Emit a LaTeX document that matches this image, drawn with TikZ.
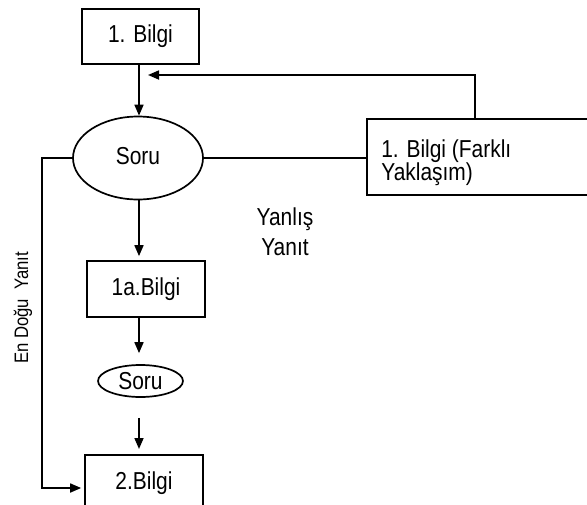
\documentclass[tikz,border=0pt]{standalone}
\usepackage{fontspec}
\setmainfont{Liberation Sans}[FakeStretch=0.855]
\usetikzlibrary{arrows.meta,shapes.geometric}
\begin{document}
\begin{tikzpicture}[x=1pt,y=-1pt,
  line width=1.7pt,
  box/.style={draw, rectangle, inner sep=0pt, font=\fontsize{24.5}{27}\selectfont},
  oval/.style={draw, ellipse, inner sep=0pt, font=\fontsize{24.5}{27}\selectfont},
  arr/.style={-{Triangle[length=11pt,width=9pt]}},
  lbl/.style={font=\fontsize{24.5}{30}\selectfont, align=center, inner sep=0pt}]
\useasboundingbox (0,0) rectangle (587,504);
\begin{scope}
\clip (0,0) rectangle (587,504);
% nodes
\node[box, minimum width=117pt, minimum height=55pt] (b1) at (140.5,36.5) {1. Bilgi};
\node[oval, minimum width=130pt, minimum height=83pt] (s1) at (138,158) {\raisebox{4pt}{Soru}};
\node[box, minimum width=240pt, minimum height=76pt, anchor=north west] (fk) at (366,118) {};
\node[anchor=north west, align=left, inner sep=0pt, font=\fontsize{24.5}{23}\selectfont] (fkt) at (380.5,138.5) {1. Bilgi (Farklı\\Yaklaşım)};
\node[lbl, anchor=north] (yy) at (285,206.5) {Yanlış\\Yanıt};
\node[rotate=90, inner sep=0pt, font=\fontsize{19.5}{21}\selectfont] (edy) at (23,308) {En Doğu\ \ Yanıt};
\node[box, minimum width=118pt, minimum height=56pt] (b1a) at (146,289) {1a.Bilgi};
\node[oval, minimum width=85pt, minimum height=32pt] (s2) at (140.5,381) {\raisebox{-3pt}{Soru}};
\node[box, minimum width=118pt, minimum height=56pt, anchor=north] (b2) at (144,454) {2.Bilgi};
% helper coordinates
\coordinate (cx) at (139,0);
\coordinate (fbx) at (475,75);
\coordinate (fbt) at (148,75);
\coordinate (lx) at (42,488);
% connectors
\draw[arr] (b1.south -| cx) -- (s1.north -| cx);
\draw[arr, shorten >=4pt] (s1.south -| cx) -- (b1a.north -| cx);
\draw[arr, shorten >=11pt] (b1a.south -| cx) -- (s2.north -| cx);
\draw[arr, shorten <=20pt, shorten >=5pt] (s2.south -| cx) -- (b2.north -| cx);
\draw[arr] (fk.north -| fbx) -- (fbx) -- (fbt);
\draw (s1.east) -- (s1.east -| fk.west);
\draw[arr, shorten >=3pt] (s1.west) -- (s1.west -| lx) -- (lx) -- (lx -| b2.west);
\end{scope}
\end{tikzpicture}
\end{document}
